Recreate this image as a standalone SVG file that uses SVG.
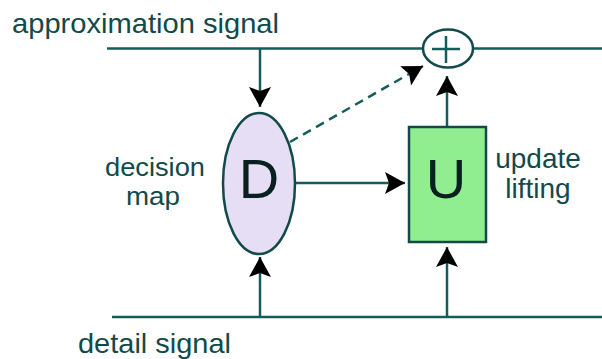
<svg xmlns="http://www.w3.org/2000/svg" width="602" height="359" viewBox="0 0 602 359">
  <style>
    .ln { stroke: #155c5c; stroke-width: 2.5; fill: none; }
    .arr { marker-end: url(#ah); }
    .dash { stroke-dasharray: 9 6; }
    .lbl { font-family: "Liberation Sans", Arial, sans-serif; font-size: 28px; fill: #124a4a; }
    .sm { font-size: 26px; }
    .big { font-family: "Liberation Sans", Arial, sans-serif; font-size: 56px; fill: #0a2020; text-anchor: middle; }
    .shape { stroke: #124a4a; stroke-width: 2.5; }
  </style>
  <defs>
    <marker id="ah" markerUnits="userSpaceOnUse" markerWidth="24" markerHeight="24" refX="20" refY="11" orient="auto" overflow="visible">
      <path d="M0,0 L20,11 L0,22 L4,11 Z" fill="#000"/>
    </marker>
  </defs>
  <rect width="602" height="359" fill="#fff"/>

  <g id="connectors">
    <line class="ln" x1="107" y1="48.5" x2="423" y2="48.5"/>
    <line class="ln" x1="473" y1="48.5" x2="602" y2="48.5"/>
    <line class="ln" x1="112" y1="317" x2="602" y2="317"/>
    <line class="ln arr" x1="260" y1="48.5" x2="260" y2="107"/>
    <line class="ln arr" x1="260" y1="317" x2="260" y2="257"/>
    <line class="ln arr" x1="447" y1="317" x2="447" y2="247"/>
    <line class="ln arr" x1="447" y1="127" x2="447" y2="76"/>
    <line class="ln arr" x1="295" y1="183" x2="405" y2="183"/>
    <line class="ln arr dash" x1="290" y1="142" x2="423" y2="66"/>
  </g>

  <g id="node-sum">
    <ellipse class="shape" cx="448" cy="48.5" rx="25" ry="19" fill="#fff"/>
    <line class="ln" x1="432" y1="49" x2="460" y2="49"/>
    <line class="ln" x1="446" y1="36" x2="446" y2="63"/>
  </g>

  <g id="node-D">
    <ellipse class="shape" cx="259" cy="183.5" rx="36" ry="70.5" fill="#e6def5"/>
    <text class="big" x="259" y="198">D</text>
  </g>

  <g id="node-U">
    <rect class="shape" x="409" y="127" width="77" height="115" fill="#90ee90"/>
    <text class="big" x="446" y="198">U</text>
  </g>

  <g id="labels">
    <text class="lbl" x="12" y="33" textLength="267" lengthAdjust="spacingAndGlyphs">approximation signal</text>
    <text class="lbl" x="78" y="353" textLength="153" lengthAdjust="spacingAndGlyphs">detail signal</text>
    <text class="lbl sm" x="105" y="176" textLength="100" lengthAdjust="spacingAndGlyphs">decision</text>
    <text class="lbl sm" x="126" y="205" textLength="54" lengthAdjust="spacingAndGlyphs">map</text>
    <text class="lbl" x="538" y="168" text-anchor="middle">update</text>
    <text class="lbl" x="538" y="198" text-anchor="middle">lifting</text>
  </g>
</svg>
